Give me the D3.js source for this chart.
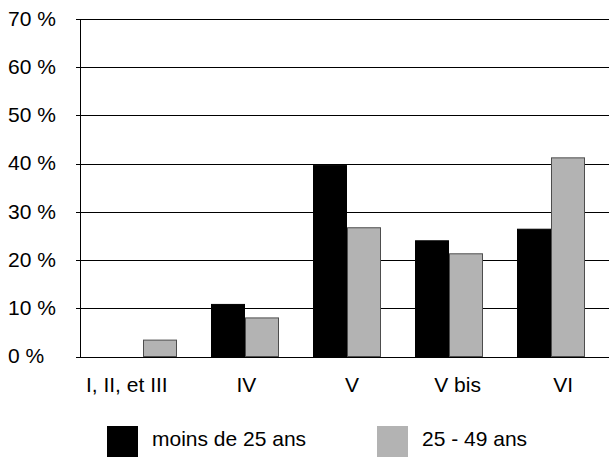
<!DOCTYPE html>
<html>
<head>
<meta charset="utf-8">
<script src="https://cdn.jsdelivr.net/npm/d3@7"></script>
<style>
  body { margin: 0; background: #fff; }
  text { font-family: "Liberation Sans", Arial, sans-serif; font-size: 21px; fill: #000; }
</style>
</head>
<body>
<svg id="chart" width="609" height="457"></svg>
<script>
const categories = ["I, II, et III", "IV", "V", "V bis", "VI"];
const seriesNames = ["moins de 25 ans", "25 - 49 ans"];
const moins25 = [0, 10.8, 39.6, 24.0, 26.4];
const de25a49 = [3.4, 8.0, 26.7, 21.3, 41.2];
const yTicks = [0, 10, 20, 30, 40, 50, 60, 70];

const colors = ["#000000", "#b3b3b3"];
const strokes = ["#000000", "#4d4d4d"];

const svg = d3.select("#chart");

// Y scale
const y = d3.scaleLinear().domain([0, 70]).range([356.5, 19]);

// grid lines across the plot
svg.append("g")
  .attr("class", "grid")
  .attr("transform", "translate(80,0)")
  .call(d3.axisLeft(y).tickValues(yTicks).tickSize(-529).tickFormat(""))
  .call((g) => g.select(".domain").remove())
  .selectAll("line")
  .attr("stroke", "#000")
  .attr("shape-rendering", "crispEdges");

// y axis line with small outer ticks
svg.append("g")
  .attr("class", "y-axis")
  .attr("transform", "translate(80,0)")
  .call(d3.axisLeft(y).tickValues(yTicks).tickSize(4).tickSizeOuter(0).tickFormat(""))
  .call((g) => g.selectAll("path, line").attr("stroke", "#000").attr("shape-rendering", "crispEdges"));

// y labels, left aligned
svg.append("g")
  .selectAll("text")
  .data(yTicks)
  .join("text")
  .attr("x", 8)
  .attr("y", (d) => y(d))
  .attr("dy", "0.32em")
  .text((d) => `${d} %`);

// bars
const x0 = d3.scaleBand().domain(categories).range([92, 602]).paddingInner(1 / 3).paddingOuter(1 / 6);
const x1 = d3.scaleBand().domain(seriesNames).range([0, x0.bandwidth()]);

const rows = categories.map((c, i) => ({ cat: c, values: [moins25[i], de25a49[i]] }));

svg.append("g")
  .selectAll("g")
  .data(rows)
  .join("g")
  .attr("transform", (d) => `translate(${x0(d.cat)},0)`)
  .selectAll("rect")
  .data((d) => d.values.map((v, j) => ({ name: seriesNames[j], value: v, j })).filter((d) => d.value > 0))
  .join("rect")
  .attr("x", (d) => x1(d.name) + 0.5)
  .attr("y", (d) => y(d.value))
  .attr("width", x1.bandwidth() - 1)
  .attr("height", (d) => y(0) - y(d.value))
  .attr("fill", (d) => colors[d.j])
  .attr("stroke", (d) => strokes[d.j])
  .attr("stroke-width", 1);

// category labels
const xl = d3.scaleBand().domain(categories).range([88, 616]);
svg.append("g")
  .selectAll("text")
  .data(categories)
  .join("text")
  .attr("x", (d, i) => xl(d) + xl.bandwidth() / 2 - (i === 0 ? 14 : 0))
  .attr("y", 392)
  .attr("text-anchor", "middle")
  .text((d) => d);

// legend
const legendX = d3.scalePoint().domain(seriesNames).range([107, 377]);
const legend = svg.append("g")
  .selectAll("g")
  .data(seriesNames)
  .join("g")
  .attr("transform", (d) => `translate(${legendX(d)},426)`);
legend.append("rect")
  .attr("width", 31)
  .attr("height", 31)
  .attr("fill", (d, i) => colors[i]);
legend.append("text")
  .attr("x", 45)
  .attr("y", 20)
  .text((d) => d);
</script>
</body>
</html>
